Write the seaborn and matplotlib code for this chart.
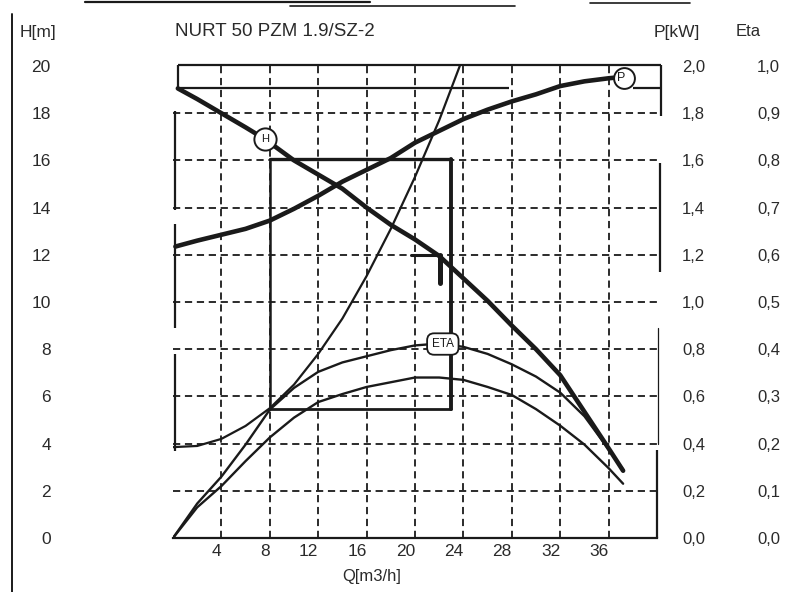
import numpy as np
import matplotlib
matplotlib.use("Agg")
import matplotlib.pyplot as plt
from matplotlib.lines import Line2D
import seaborn as sns

# -----------------------------------
# Data
# -----------------------------------

q_ticks = [4, 8, 12, 16, 20, 24, 28, 32, 36]
h_ticks = [0, 2, 4, 6, 8, 10, 12, 14, 16, 18, 20]
p_ticks = [0.0, 0.2, 0.4, 0.6, 0.8, 1.0, 1.2, 1.4, 1.6, 1.8, 2.0]
eta_ticks = [0.0, 0.1, 0.2, 0.3, 0.4, 0.5, 0.6, 0.7, 0.8, 0.9, 1.0]

# pump head H [m]
q_head = [0.4, 2, 4, 6, 7.6, 10, 12, 14, 16, 18, 20, 22, 24, 26, 28, 30, 32, 34, 36, 37.2]
head = [19.05, 18.6, 18.0, 17.4, 16.9, 16.0, 15.4, 14.8, 14.0, 13.27, 12.65, 11.95,
        11.0, 10.05, 9.0, 8.0, 6.9, 5.35, 3.8, 2.85]

# shaft power P [kW]
q_power = [0.2, 2, 4, 6, 8, 10, 12, 14, 16, 18, 20, 22, 24, 26, 28, 30, 32, 34, 36, 36.4]
power = [1.235, 1.26, 1.285, 1.31, 1.345, 1.395, 1.45, 1.51, 1.56, 1.61, 1.675, 1.725,
         1.775, 1.815, 1.85, 1.88, 1.915, 1.935, 1.948, 1.95]

# system curve H [m]
q_system = [0, 2, 4, 6, 8, 10, 12, 14, 16, 18, 20, 22, 23.7]
system_head = [3.85, 3.9, 4.2, 4.75, 5.5, 6.5, 7.8, 9.3, 11.1, 13.1, 15.3, 17.7, 20.0]

# efficiencies
q_eta = [0, 2, 4, 6, 8, 10, 12, 14, 16, 18, 20, 22, 24, 26, 28, 30, 32, 34, 36, 37.2]
eta_pump = [0.0, 0.073, 0.13, 0.198, 0.272, 0.318, 0.352, 0.372, 0.385, 0.398, 0.408,
            0.412, 0.405, 0.39, 0.368, 0.342, 0.308, 0.258, 0.188, 0.145]
eta_total = [0.0, 0.065, 0.11, 0.163, 0.213, 0.255, 0.288, 0.305, 0.32, 0.33, 0.34,
             0.34, 0.335, 0.32, 0.303, 0.273, 0.238, 0.198, 0.148, 0.115]

# working range and duty point
range_q = [8.0, 23.0]
range_h = [5.45, 16.05]
duty_q = 22.05
duty_h = 12.0

# curve label positions (Q)
label_h_q = 7.6
label_p_q = 37.3
label_eta_q = 22.3

title = "NURT 50 PZM 1.9/SZ-2"

# -----------------------------------
# Style
# -----------------------------------

sns.set_theme(style="white")
plt.rcParams["font.family"] = ["Liberation Sans", "DejaVu Sans"]

ink = "#1a1a1a"
text_col = "#2a2a2a"
grid_dash = (0, (4, 2.6))
curve_kw = dict(sort=False, estimator=None, solid_joinstyle="round",
                solid_capstyle="round")

fig = plt.figure(figsize=(8.12, 5.92), dpi=100)
ax = fig.add_axes([173 / 812, 54 / 592, 484 / 812, 472 / 592])
ax.set_xlim(0, 40)
ax.set_ylim(0, 20)

for sp in ["top", "left", "right"]:
    ax.spines[sp].set_visible(False)
ax.spines["bottom"].set_color(ink)
ax.spines["bottom"].set_linewidth(1.6)

# dashed grid
for q in q_ticks:
    ax.axvline(q, color=ink, lw=1.3, ls=grid_dash, zorder=1)
for h in h_ticks[1:-1]:
    ax.axhline(h, color=ink, lw=1.3, ls=grid_dash, zorder=1)

# frame pieces of the sheet
frame_kw = dict(color=ink, lw=1.6, solid_capstyle="butt", clip_on=False, zorder=2)
ax.plot([0.4, 40.3], [20.05, 20.05], **frame_kw)
ax.plot([0.4, 27.8], [19.05, 19.05], **frame_kw)
ax.plot([38.0, 40.3], [19.05, 19.05], **frame_kw)
ax.plot([0.4, 0.4], [19.05, 20.05], **frame_kw)
ax.plot([40.3, 40.3], [17.9, 20.05], **frame_kw)
for lo, hi in [(13.9, 18.1), (8.9, 13.3), (3.7, 7.8)]:
    ax.plot([0.2, 0.2], [lo, hi], **frame_kw)
ax.plot([40.25, 40.25], [11.27, 15.9], **frame_kw)
ax.plot([40.1, 40.1], [4.0, 8.9], color=ink, lw=0.9, clip_on=False)
ax.plot([39.97, 39.97], [0, 3.75], **frame_kw)

# working range box
ax.plot([range_q[0], range_q[1]], [range_h[1], range_h[1]], color=ink, lw=2.4, zorder=3)
ax.plot([range_q[1], range_q[1]], [range_h[0], range_h[1]], color=ink, lw=2.8, zorder=3)
ax.plot([range_q[0], range_q[1]], [range_h[0], range_h[0]], color=ink, lw=2.0, zorder=3)
ax.plot([range_q[0], range_q[0]], [range_h[0], range_h[1]], color=ink, lw=1.8, zorder=3)

# duty point mark
ax.plot([duty_q - 2.4, duty_q], [duty_h, duty_h], color=ink, lw=2.2, zorder=4)
ax.plot([duty_q, duty_q], [duty_h, duty_h - 1.2], color=ink, lw=3.6, zorder=4)

# head and system curves
sns.lineplot(x=q_system, y=system_head, ax=ax, color=ink, linewidth=1.6, zorder=4, **curve_kw)
sns.lineplot(x=q_head, y=head, ax=ax, color=ink, linewidth=3.3, zorder=5, **curve_kw)

# power axis
ax2 = ax.twinx()
ax2.set_ylim(0, 2)
sns.lineplot(x=q_power, y=power, ax=ax2, color=ink, linewidth=3.3, zorder=5, **curve_kw)

# efficiency axis
ax3 = ax.twinx()
ax3.set_ylim(0, 1)
sns.lineplot(x=q_eta, y=eta_pump, ax=ax3, color=ink, linewidth=1.7, zorder=5, **curve_kw)
sns.lineplot(x=q_eta, y=eta_total, ax=ax3, color=ink, linewidth=1.7, zorder=5, **curve_kw)

for a in (ax2, ax3):
    for sp in a.spines.values():
        sp.set_visible(False)
    a.set_xlim(0, 40)
    a.set_ylabel("")
    a.set_xlabel("")

# curve labels
h_y = np.interp(label_h_q, q_head, head)
ax.plot([label_h_q], [h_y], marker="o", ms=16, mfc="white", mec=ink, mew=1.4, zorder=6)
ax.text(label_h_q, h_y, "H", ha="center", va="center", fontsize=8, color=ink, zorder=7)

p_y = np.interp(label_p_q, q_power, power)
ax2.plot([label_p_q], [p_y], marker="o", ms=15, mfc="white", mec=ink, mew=1.4,
         zorder=6, clip_on=False)
ax2.text(label_p_q - 0.3, p_y, "P", ha="center", va="center", fontsize=9, color=ink, zorder=7)

e_y = np.interp(label_eta_q, q_eta, eta_pump)
ax3.text(label_eta_q, e_y, "ETA", ha="center", va="center", fontsize=8.5, color=ink,
         zorder=7, bbox=dict(boxstyle="round,pad=0.4,rounding_size=0.6",
                             fc="white", ec=ink, lw=1.3))

# -----------------------------------
# Ticks
# -----------------------------------

ax.set_xticks(q_ticks)
ax.set_xticklabels([str(q) for q in q_ticks], ha="right")
ax.set_yticks(h_ticks)
ax.set_yticklabels([str(h) for h in h_ticks])
ax.tick_params(axis="x", length=0, pad=4, labelsize=12.5, labelcolor=text_col)
ax.tick_params(axis="y", length=0, pad=88, labelsize=12.5, labelcolor=text_col)

ax2.set_yticks(p_ticks)
ax2.set_yticklabels([f"{v:.1f}".replace(".", ",") for v in p_ticks])
ax2.tick_params(axis="y", length=0, pad=18, labelsize=12, labelcolor=text_col)

ax3.set_yticks(eta_ticks)
ax3.set_yticklabels([f"{v:.1f}".replace(".", ",") for v in eta_ticks])
ax3.tick_params(axis="y", length=0, pad=72, labelsize=12, labelcolor=text_col)

ax.set_xlabel("")
ax.set_ylabel("")

# -----------------------------------
# Sheet texts
# -----------------------------------

fig.text(20 / 812, 1 - 32 / 592, "H[m]", ha="left", va="center", fontsize=12.5, color=text_col)
fig.text(175 / 812, 1 - 32 / 592, title, ha="left", va="center", fontsize=13.5, color=text_col)
fig.text(677 / 812, 1 - 32 / 592, "P[kW]", ha="center", va="center", fontsize=12.5, color=text_col)
fig.text(748 / 812, 1 - 32 / 592, "Eta", ha="center", va="center", fontsize=12, color=text_col)
fig.text(372 / 812, 1 - 576 / 592, "Q[m3/h]", ha="center", va="center", fontsize=12, color=text_col)

# page border from the scan
fig.add_artist(Line2D([12 / 812, 12 / 812], [0, 1 - 14 / 592], color=ink, lw=1.4))
fig.add_artist(Line2D([85 / 812, 370 / 812], [1 - 2 / 592, 1 - 2 / 592], color=ink, lw=1.6))
fig.add_artist(Line2D([290 / 812, 515 / 812], [1 - 6 / 592, 1 - 6 / 592], color=ink, lw=1.2))
fig.add_artist(Line2D([590 / 812, 690 / 812], [1 - 3 / 592, 1 - 3 / 592], color=ink, lw=1.2))

fig.savefig("out.png", dpi=100, facecolor="white")
